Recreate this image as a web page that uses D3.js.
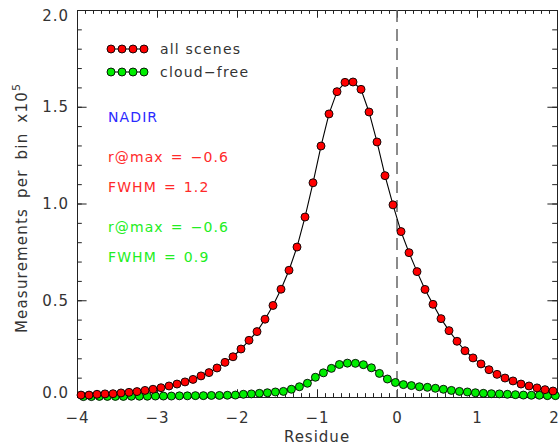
<!DOCTYPE html>
<html>
<head>
<meta charset="utf-8">
<script src="https://cdn.jsdelivr.net/npm/d3@7"></script>
<style>
  body { margin: 0; background: #fff; }
  svg text { font-family: "DejaVu Sans", sans-serif; }
</style>
</head>
<body>
<div id="chart"></div>
<script>
// Residue histograms, NADIR view: all scenes vs. cloud-free scenes.
// Bin centres (residue) and counts per bin in units of 1e5.
const binsAll = [-3.95, -3.85, -3.75, -3.65, -3.55, -3.45, -3.35, -3.25, -3.15, -3.05,
  -2.95, -2.85, -2.75, -2.65, -2.55, -2.45, -2.35, -2.25, -2.15, -2.05,
  -1.95, -1.85, -1.75, -1.65, -1.55, -1.45, -1.35, -1.25, -1.15, -1.05,
  -0.95, -0.85, -0.75, -0.65, -0.55, -0.45, -0.35, -0.25, -0.15, -0.05,
  0.05, 0.15, 0.25, 0.35, 0.45, 0.55, 0.65, 0.75, 0.85, 0.95,
  1.05, 1.15, 1.25, 1.35, 1.45, 1.55, 1.65, 1.75, 1.85, 1.95];
const allScenes = [0.010, 0.010, 0.014, 0.016, 0.017, 0.021, 0.024, 0.028, 0.034, 0.040,
  0.048, 0.057, 0.067, 0.078, 0.091, 0.109, 0.126, 0.150, 0.179, 0.208,
  0.248, 0.293, 0.338, 0.402, 0.473, 0.557, 0.655, 0.775, 0.930, 1.107,
  1.297, 1.463, 1.578, 1.626, 1.628, 1.590, 1.473, 1.318, 1.144, 0.993,
  0.855, 0.746, 0.648, 0.556, 0.479, 0.405, 0.343, 0.288, 0.239, 0.202,
  0.171, 0.141, 0.117, 0.098, 0.083, 0.067, 0.057, 0.047, 0.038, 0.031];

const binsClear = [-3.92, -3.82, -3.72, -3.62, -3.52, -3.42, -3.32, -3.22, -3.12, -3.02,
  -2.92, -2.82, -2.72, -2.62, -2.52, -2.42, -2.32, -2.22, -2.12, -2.02,
  -1.92, -1.82, -1.72, -1.62, -1.52, -1.42, -1.32, -1.22, -1.12, -1.02,
  -0.92, -0.82, -0.72, -0.62, -0.52, -0.42, -0.32, -0.22, -0.12, -0.02,
  0.08, 0.18, 0.28, 0.38, 0.48, 0.58, 0.68, 0.78, 0.88, 0.98,
  1.08, 1.18, 1.28, 1.38, 1.48, 1.58, 1.68, 1.78, 1.88, 1.98];
const cloudFree = [0.002, 0.002, 0.003, 0.003, 0.003, 0.003, 0.004, 0.004, 0.004, 0.005,
  0.005, 0.005, 0.006, 0.006, 0.007, 0.007, 0.008, 0.008, 0.009, 0.010,
  0.014, 0.016, 0.019, 0.022, 0.026, 0.029, 0.040, 0.053, 0.071, 0.102,
  0.125, 0.148, 0.168, 0.175, 0.174, 0.167, 0.151, 0.122, 0.093, 0.075,
  0.064, 0.059, 0.053, 0.050, 0.045, 0.040, 0.034, 0.029, 0.026, 0.022,
  0.019, 0.017, 0.016, 0.014, 0.012, 0.010, 0.009, 0.009, 0.007, 0.007];

const xMajor = [-4, -3, -2, -1, 0, 1, 2];
const yMajor = [0, 0.5, 1.0, 1.5, 2.0];

const legendItems = [
  { label: 'all scenes', color: '#ff0000' },
  { label: 'cloud\u2212free', color: '#00ee00' }
];
const notes = [
  { text: 'NADIR', color: '#2a2aff', y: 122 },
  { text: 'r@max = \u22120.6', color: '#ff2a2a', y: 162 },
  { text: 'FWHM = 1.2', color: '#ff2a2a', y: 192 },
  { text: 'r@max = \u22120.6', color: '#22ee22', y: 232 },
  { text: 'FWHM = 0.9', color: '#22ee22', y: 262 }
];

const W = 560, H = 448;
const m = { top: 10, right: 3, bottom: 51, left: 77 };
const innerW = W - m.left - m.right;
const innerH = H - m.top - m.bottom;
const ink = '#333';

const svg = d3.select('#chart').append('svg').attr('width', W).attr('height', H);
const g = svg.append('g').attr('transform', `translate(${m.left},${m.top})`);

const x = d3.scaleLinear().domain([-4, 2]).range([0, innerW]);
const y = d3.scaleLinear().domain([0, 2]).range([innerH, 0]);

const xMinor = d3.range(-40, 21).map(d => d / 10);
const yMinor = d3.range(0, 21).map(d => d / 10);
const xTick = innerH * 0.02, yTick = innerW * 0.02;

// IDL-style box: ticks point inward on all four sides.
function styleAxis(sel) {
  sel.selectAll('path, line').attr('stroke', '#222');
  sel.selectAll('text').attr('fill', ink).style('font-size', '15px').style('letter-spacing', '1px');
}

g.append('g').attr('transform', `translate(0,${innerH})`)
  .call(d3.axisBottom(x).tickValues(xMinor).tickFormat('').tickSizeInner(-xTick / 2).tickSizeOuter(0)).call(styleAxis);
const xAx = g.append('g').attr('transform', `translate(0,${innerH})`)
  .call(d3.axisBottom(x).tickValues(xMajor).tickFormat(d3.format('d')).tickSizeInner(-xTick).tickSizeOuter(0).tickPadding(15))
  .call(styleAxis);
// keep the last label inside the window
xAx.selectAll('.tick text').attr('dx', d => d === 2 ? -3 : 0);
g.append('g')
  .call(d3.axisTop(x).tickValues(xMinor).tickFormat('').tickSizeInner(-xTick / 2).tickSizeOuter(0)).call(styleAxis);
g.append('g')
  .call(d3.axisTop(x).tickValues(xMajor).tickFormat('').tickSizeInner(-xTick).tickSizeOuter(0)).call(styleAxis);

g.append('g')
  .call(d3.axisLeft(y).tickValues(yMinor).tickFormat('').tickSizeInner(-yTick / 2).tickSizeOuter(0)).call(styleAxis);
const yAx = g.append('g')
  .call(d3.axisLeft(y).tickValues(yMajor).tickFormat(d3.format('.1f')).tickSizeInner(-yTick).tickSizeOuter(0).tickPadding(8))
  .call(styleAxis);
// end labels are pulled inside the axis range, as in the original
yAx.selectAll('.tick text').attr('dy', d => d === 2 ? '0.7em' : d === 0 ? '0' : '0.32em');
g.append('g').attr('transform', `translate(${innerW},0)`)
  .call(d3.axisRight(y).tickValues(yMinor).tickFormat('').tickSizeInner(-yTick / 2).tickSizeOuter(0)).call(styleAxis);
g.append('g').attr('transform', `translate(${innerW},0)`)
  .call(d3.axisRight(y).tickValues(yMajor).tickFormat('').tickSizeInner(-yTick).tickSizeOuter(0)).call(styleAxis);

// dashed zero line
g.append('line')
  .attr('x1', x(0)).attr('x2', x(0)).attr('y1', 0).attr('y2', innerH)
  .attr('stroke', '#666').attr('stroke-width', 1.5).attr('stroke-dasharray', '12,7');

function drawSeries(xs, ys, color) {
  const pts = xs.map((d, i) => [d, ys[i]]);
  g.append('path').datum(pts)
    .attr('fill', 'none').attr('stroke', '#000').attr('stroke-width', 1.1)
    .attr('d', d3.line().x(d => x(d[0])).y(d => y(d[1])));
  g.append('g').selectAll('circle').data(pts).join('circle')
    .attr('cx', d => x(d[0])).attr('cy', d => y(d[1])).attr('r', 4)
    .attr('fill', color).attr('stroke', '#000').attr('stroke-width', 0.9);
}
drawSeries(binsClear, cloudFree, legendItems[1].color);
drawSeries(binsAll, allScenes, legendItems[0].color);

// legend: four linked dots + label
const leg = svg.append('g');
legendItems.forEach((item, i) => {
  const ly = 49 + i * 23;
  const dx = [111, 122, 133, 144];
  leg.append('line').attr('x1', dx[0]).attr('x2', dx[3]).attr('y1', ly).attr('y2', ly).attr('stroke', '#000');
  leg.selectAll(null).data(dx).join('circle')
    .attr('cx', d => d).attr('cy', ly).attr('r', 4)
    .attr('fill', item.color).attr('stroke', '#000').attr('stroke-width', 0.9);
  leg.append('text').attr('x', 160).attr('y', ly + 5)
    .attr('fill', ink).style('font-size', '14px').style('letter-spacing', '1.2px')
    .text(item.label);
});

svg.selectAll('.note').data(notes).join('text')
  .attr('class', 'note')
  .attr('x', 108).attr('y', d => d.y)
  .attr('fill', d => d.color).style('font-size', '14px').style('letter-spacing', '1.1px')
  .style('word-spacing', '1.5px')
  .text(d => d.text);

// axis titles
svg.append('text')
  .attr('x', m.left + innerW / 2).attr('y', 442)
  .attr('text-anchor', 'middle').attr('fill', ink)
  .style('font-size', '15px').style('letter-spacing', '1px')
  .text('Residue');

const yt = svg.append('text')
  .attr('transform', 'translate(27,208) rotate(-90)')
  .attr('text-anchor', 'middle').attr('fill', ink)
  .style('font-size', '15px').style('letter-spacing', '1.2px').style('word-spacing', '4px');
yt.append('tspan').text('Measurements per bin x10');
yt.append('tspan').attr('dy', -7).style('font-size', '11px').text('5');
</script>
</body>
</html>
